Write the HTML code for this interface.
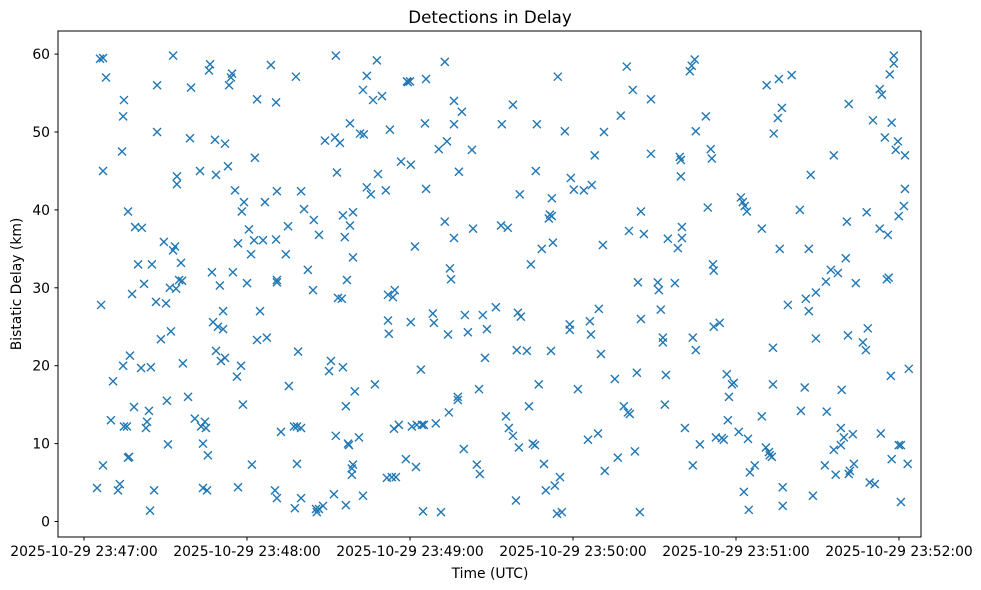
<!DOCTYPE html>
<html><head><meta charset="utf-8"><style>
html,body{margin:0;padding:0;background:#fff;}
svg{display:block;font-family:"DejaVu Sans","Liberation Sans",sans-serif;}
</style></head><body>
<svg id="chart" width="981" height="590" viewBox="0 0 981 590">
<rect x="0" y="0" width="981" height="590" fill="#fff"/>
<text x="490" y="23" font-size="16.7" text-anchor="middle" fill="#000">Detections in Delay</text>
<text x="490" y="578" font-size="13.9" text-anchor="middle" fill="#000">Time (UTC)</text>
<text x="0" y="0" font-size="13.9" text-anchor="middle" fill="#000" transform="translate(21,284) rotate(-90)">Bistatic Delay (km)</text>
<g id="ticks"></g>
<g id="marks"></g>
<rect x="58" y="31" width="863" height="506" fill="none" stroke="#000" stroke-width="1"/>
</svg>
<script>
const xTickSeconds=[0,60,120,180,240,300];
const xTickLabels=["2025-10-29 23:47:00","2025-10-29 23:48:00","2025-10-29 23:49:00","2025-10-29 23:50:00","2025-10-29 23:51:00","2025-10-29 23:52:00"];
const yTickValues=[0,10,20,30,40,50,60];
const times=[
4.8,5.9,6.3,7.0,7.0,7.0,8.1,9.9,10.7,12.5,
13.2,14.0,14.4,14.7,14.4,14.7,15.8,16.2,16.2,16.6,
16.9,17.7,18.4,18.8,19.9,21.0,21.3,22.1,22.8,23.2,
23.9,24.3,24.6,25.0,25.8,26.5,26.9,26.9,28.3,29.4,
30.2,30.5,30.9,31.6,32.0,32.8,32.8,33.5,33.9,34.2,
34.2,35.0,35.7,36.1,36.4,38.3,39.0,39.4,40.8,42.7,
43.1,43.8,43.8,44.5,44.9,45.6,45.3,46.0,46.4,47.1,
47.5,48.2,48.6,48.6,49.3,50.0,50.4,51.2,51.2,51.9,
51.9,53.0,53.4,54.1,54.5,54.8,55.6,56.3,56.7,56.7,
57.8,58.1,58.5,58.9,60.0,60.7,61.5,61.8,62.6,62.9,
63.7,63.7,64.8,65.9,66.6,67.3,68.8,70.3,70.7,70.7,
71.0,71.0,71.0,71.0,72.5,74.3,75.1,75.4,77.3,77.6,
78.0,78.4,78.4,78.8,79.9,79.9,79.9,81.0,82.4,84.3,
84.6,85.4,85.7,86.5,86.5,88.0,88.7,90.2,90.9,92.0,
92.4,92.7,92.7,93.1,93.5,94.2,94.9,95.3,95.3,96.0,
96.4,96.4,96.8,97.2,97.5,97.9,97.9,98.6,98.6,99.0,
99.0,99.0,99.7,101.2,101.6,102.7,102.7,103.0,104.1,104.1,
105.6,106.4,107.1,107.8,108.2,109.7,111.1,111.5,111.9,111.9,
112.2,112.6,113.3,113.7,114.1,114.4,114.8,115.9,116.7,118.5,
118.9,119.2,120.0,120.3,120.3,120.7,121.8,122.2,122.5,124.0,
124.4,124.8,125.1,125.5,125.9,125.9,128.4,128.8,129.5,130.6,
131.4,132.8,132.8,133.6,134.0,134.3,134.7,135.1,136.2,136.2,
136.2,137.6,137.6,138.0,139.1,139.8,140.2,141.3,142.8,143.2,
144.6,145.4,145.7,146.8,147.6,148.3,151.6,153.5,153.8,155.3,
156.0,156.4,157.9,157.9,159.0,159.3,159.7,160.1,160.4,160.8,
163.0,163.8,164.5,165.2,166.0,166.3,166.7,167.4,168.5,169.3,
170.0,171.1,171.5,171.9,172.2,172.2,172.6,173.3,174.1,174.4,
175.2,175.9,177.0,178.8,178.8,179.2,180.3,181.8,184.0,185.5,
186.2,186.6,186.9,188.0,189.2,189.5,190.3,191.0,191.4,191.7,
195.4,196.5,197.6,198.7,199.8,200.2,200.6,200.9,202.0,202.8,
203.5,203.9,204.6,205.0,205.0,206.1,208.7,208.7,211.2,211.6,
212.3,213.1,213.1,213.8,214.2,214.9,217.5,218.6,219.3,219.7,
219.7,220.1,220.1,221.2,223.0,223.7,224.1,224.1,224.8,225.2,
225.2,226.7,228.9,229.6,230.7,231.1,231.5,231.8,231.8,232.6,
234.0,234.8,235.5,236.6,237.0,237.4,238.5,239.2,241.0,241.8,
242.5,242.9,243.2,244.0,244.4,245.1,244.7,246.9,249.5,249.5,
251.0,251.3,252.1,252.4,253.2,253.6,253.6,253.9,255.4,255.8,
256.1,256.9,257.2,257.2,259.1,260.5,263.5,263.9,265.3,265.7,
266.8,266.8,267.5,268.3,269.4,269.4,272.7,273.1,273.4,274.9,
276.0,276.0,276.7,277.5,278.6,278.6,278.9,279.7,280.4,280.8,
281.2,281.5,281.5,281.9,283.0,283.4,284.1,286.7,287.8,288.1,
288.5,289.2,290.4,291.1,292.9,292.9,293.3,293.7,294.8,295.5,
295.9,296.2,296.6,297.0,297.3,297.3,298.1,298.1,298.8,299.6,
299.9,299.9,300.7,300.7,301.8,302.2,302.2,303.2,303.6
];
const delays=[
4.3,59.4,27.8,59.5,7.2,45,57,13,18,4,
4.8,47.5,52,54.1,20,12.2,12.2,39.8,8.2,8.3,
21.3,29.2,14.7,37.8,33,19.7,37.7,30.5,12,12.8,
14.2,1.4,19.8,33,4,28.2,56,50,23.4,35.9,
28,15.5,9.9,30,24.4,59.8,34.8,35.3,29.9,44.3,
43.3,31,33.2,30.9,20.3,16,49.2,55.7,13.2,45,
12.2,10,4.3,12.8,12,8.5,4,57.9,58.7,32,
25.6,49,21.9,44.5,25,30.3,20.6,27,24.7,48.5,
21,45.6,56,57,57.5,32,42.5,18.6,35.7,4.4,
20,39.8,15,41,30.6,37.5,34.3,7.3,36.1,46.7,
23.3,54.2,27,36.1,41,23.6,58.6,4,53.8,36.2,
3,42.4,31,30.7,11.5,34.3,37.9,17.4,12.2,1.7,
57.1,12.2,7.4,21.8,3,42.4,12,40.1,32.3,29.7,
38.7,1.6,1.2,36.8,1.6,2,48.9,19.3,20.6,3.5,
49.3,59.8,11,44.8,28.7,48.6,28.6,39.3,19.8,36.5,
14.8,2.1,31,10,9.8,38,51.1,6.8,6,7.3,
39.7,33.9,16.7,10.8,49.8,55.4,3.3,49.7,57.2,42.9,
42,54.1,17.6,59.2,44.6,54.6,42.5,5.6,25.8,29.1,
24.1,50.3,5.7,28.8,11.9,29.7,5.7,12.4,46.2,8,
56.5,56.4,56.5,45.8,25.6,12.2,35.3,7,12.4,19.5,
12.4,1.3,12.4,51.1,56.8,42.7,26.7,25.5,12.6,47.8,
1.2,59,38.5,48.8,24,14,32.5,31.1,36.4,54,
51,15.6,16,44.9,52.6,9.3,26.5,24.3,47.7,37.6,
7.3,17,6.1,26.5,21,24.7,27.5,38,51,13.5,
37.7,12,53.5,11,2.7,22,26.8,9.5,42,26.3,
21.9,14.8,33,10,9.8,45,51,17.6,35,7.4,
4,38.9,39.4,21.9,41.5,39.2,35.8,4.6,1,57.1,
5.7,1.2,50.1,24.6,25.3,44.1,42.6,17,42.5,10.5,
25.7,24,43.2,47,11.3,27.3,21.5,35.5,50,6.5,
18.3,8.2,52.1,14.8,58.4,14,37.3,13.8,55.4,9,
19.1,30.7,1.2,39.8,26,36.9,54.2,47.2,30.7,29.7,
27.2,23,23.6,15,18.8,36.3,30.6,35.1,46.8,46.4,
44.3,36.4,37.8,12,57.8,58.5,23.6,7.2,59.3,50.1,
22,9.9,52,40.3,47.8,46.6,33,32.2,25,10.8,
25.5,10.7,10.5,18.9,13,16,17.6,17.8,11.5,41.6,
41,3.8,40.5,39.8,10.6,6.3,1.5,7.2,37.6,13.5,
9.5,56,8.9,8.5,8.3,17.6,22.3,49.8,51.8,56.8,
35,53.1,4.4,2,27.8,57.3,40,14.2,17.2,28.6,
35,27,44.5,3.3,23.5,29.4,7.2,30.8,14.1,32.3,
9.2,47,6,31.9,12,9.8,16.9,10.8,33.8,38.5,
23.9,53.6,6.1,6.5,11.2,7.4,30.6,23,22,39.7,
24.8,5,51.5,4.8,55.5,37.6,11.3,54.8,49.3,31.1,
36.8,31.3,57.4,18.7,51.2,8,59.8,58.8,47.7,48.8,
39.2,9.8,9.8,2.5,40.5,47,42.7,7.4,19.6
];
const NS='http://www.w3.org/2000/svg';
function xScale(s){return 84+s*163/60;}
function yScale(v){return 521.5-v*7.79;}
const ticks=document.getElementById('ticks');
xTickSeconds.forEach(function(s,i){
  const x=xScale(s);
  const l=document.createElementNS(NS,'line');
  l.setAttribute('x1',x);l.setAttribute('x2',x);l.setAttribute('y1',537);l.setAttribute('y2',540.5);
  l.setAttribute('stroke','#000');
  
  
  ticks.appendChild(l);
  const t=document.createElementNS(NS,'text');
  t.setAttribute('x',x);t.setAttribute('y',556);t.setAttribute('font-size','13.9');t.setAttribute('text-anchor','middle');
  t.textContent=xTickLabels[i];
  
  
  ticks.appendChild(t);
});
yTickValues.forEach(function(v){
  const y=yScale(v);
  const l=document.createElementNS(NS,'line');
  l.setAttribute('x1',54.5);l.setAttribute('x2',58);l.setAttribute('y1',y);l.setAttribute('y2',y);
  l.setAttribute('stroke','#000');
  
  
  ticks.appendChild(l);
  const t=document.createElementNS(NS,'text');
  t.setAttribute('x',50);t.setAttribute('y',y+5);t.setAttribute('font-size','13.9');t.setAttribute('text-anchor','end');
  t.textContent=String(v);
  
  
  ticks.appendChild(t);
});
const marks=document.getElementById('marks');
const n=Math.min(times.length,delays.length);
for(let i=0;i<n;i++){
  const x=xScale(times[i]),y=yScale(delays[i]),r=4;
  const p=document.createElementNS(NS,'path');
  p.setAttribute('d','M'+(x-r)+' '+(y-r)+'L'+(x+r)+' '+(y+r)+'M'+(x-r)+' '+(y+r)+'L'+(x+r)+' '+(y-r));
  p.setAttribute('stroke','#1f77b4');
  p.setAttribute('stroke-width','1.4');
  p.setAttribute('fill','none');
  
  
  marks.appendChild(p);
}
</script>
</body></html>
